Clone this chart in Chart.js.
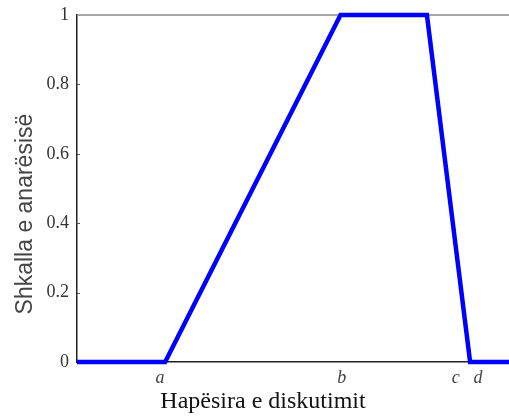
<!DOCTYPE html>
<html><head><meta charset="utf-8">
<script src="https://cdn.jsdelivr.net/npm/chart.js@4/dist/chart.umd.min.js"></script>
<style>html,body{margin:0;padding:0;background:#fff}#wrap{width:509px;height:416px}</style>
</head><body><div id="wrap"><canvas id="c" width="509" height="416"></canvas></div>
<script>
const xValues = [0, 2.04, 6.1, 8.1, 9.1, 10];
const yValues = [0, 0, 1, 1, 0, 0];
const xTickValues = [1.92, 6.13, 8.77, 9.28];
const xTickLabels = ['a', 'b', 'c', 'd'];
const yTickValues = [0, 0.2, 0.4, 0.6, 0.8, 1];

const frame = {
  id: 'frame',
  beforeDatasetsDraw(chart) {
    const {ctx, chartArea} = chart;
    const ys = chart.scales.y;
    ctx.save();
    ctx.strokeStyle = '#8a8a8a';
    ctx.lineWidth = 1.5;
    ctx.beginPath();
    ctx.moveTo(chartArea.left, chartArea.top);
    ctx.lineTo(chartArea.right, chartArea.top);
    ctx.stroke();
    ctx.strokeStyle = '#555';
    ctx.lineWidth = 1;
    yTickValues.forEach(v => {
      if (v === 0 || v === 1) return;
      const py = Math.round(ys.getPixelForValue(v)) + 0.5;
      ctx.beginPath();
      ctx.moveTo(chartArea.left, py);
      ctx.lineTo(chartArea.left + 3, py);
      ctx.stroke();
    });
    ctx.restore();
  }
};

new Chart(document.getElementById('c'), {
  type: 'line',
  data: {
    datasets: [{
      data: xValues.map((x, i) => ({x, y: yValues[i]})),
      borderColor: '#0000ff',
      borderWidth: 4.5,
      pointRadius: 0,
      tension: 0,
      clip: false,
      borderJoinStyle: 'miter'
    }]
  },
  options: {
    responsive: false,
    animation: false,
    devicePixelRatio: 1,
    layout: {padding: {top: 15, right: 0, left: 0, bottom: 0}},
    plugins: {legend: {display: false}, tooltip: {enabled: false}},
    scales: {
      x: {
        type: 'linear', min: 0, max: 10,
        afterBuildTicks: s => { s.ticks = xTickValues.map(v => ({value: v})); },
        afterFit: s => { s.height = 54; },
        grid: {display: false, drawTicks: false},
        border: {display: true, color: '#222', width: 1.5},
        ticks: {
          autoSkip: false, maxRotation: 0, padding: 5,
          color: '#444',
          font: {family: 'Liberation Serif', size: 18, style: 'italic'},
          callback: (v, i) => xTickLabels[i]
        },
        title: {
          display: true, text: 'Hapësira e diskutimit          ',
          color: '#111', padding: {top: 0, bottom: 0},
          font: {family: 'Liberation Serif', size: 24}
        }
      },
      y: {
        type: 'linear', min: 0, max: 1,
        afterBuildTicks: s => { s.ticks = yTickValues.map(v => ({value: v})); },
        afterFit: s => { s.width = 77; s.paddingTop = 0; s.paddingBottom = 0; },
        grid: {display: false, drawTicks: false},
        border: {display: true, color: '#222', width: 1.5},
        ticks: {
          padding: 8, color: '#333',
          font: {family: 'Liberation Serif', size: 18},
          callback: v => String(v)
        },
        title: {
          display: true, text: 'Shkalla e anarësisë        ',
          color: '#444', padding: {top: 12, bottom: 0},
          font: {family: 'Liberation Sans', size: 23}
        }
      }
    }
  },
  plugins: [frame]
});
</script></body></html>
